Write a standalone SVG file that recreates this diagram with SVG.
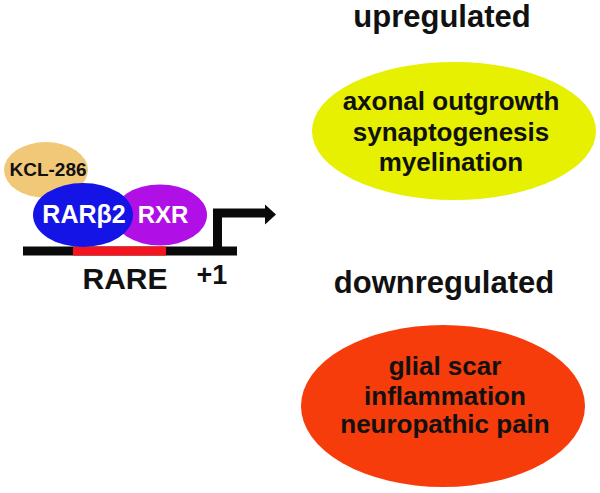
<svg xmlns="http://www.w3.org/2000/svg" width="600" height="493" viewBox="0 0 600 493">
<style>
text{font-family:"Liberation Sans",Arial,sans-serif;font-weight:bold;text-anchor:middle;fill:#111}
.w{fill:#fff}
</style>
<rect width="600" height="493" fill="#fff"/>
<g id="connectors">
<rect x="23" y="246.5" width="214" height="9" fill="#0a0a0a"/>
<rect x="73" y="246.5" width="93" height="9" fill="#f5141e"/>
<polyline points="217.5,251 217.5,213 267,213" fill="none" stroke="#0a0a0a" stroke-width="9"/>
<polygon points="265,204.5 276,214.5 265,224.5" fill="#0a0a0a"/>
</g>
<g id="kcl286">
<ellipse cx="46" cy="170" rx="42" ry="28" fill="#f0c878"/>
<text x="48" y="176" font-size="19">KCL-286</text>
</g>
<g id="rxr">
<ellipse cx="160" cy="215" rx="47" ry="30.5" fill="#b010e6"/>
<text class="w" x="163" y="223" font-size="24">RXR</text>
</g>
<g id="rarb2">
<ellipse cx="83" cy="215" rx="50" ry="32" fill="#1414e6"/>
<text class="w" x="84" y="223" font-size="25">RARβ2</text>
</g>
<g id="rare">
<text x="125" y="289" font-size="30">RARE</text>
</g>
<g id="plus1">
<text x="212" y="284" font-size="27">+1</text>
</g>
<g id="upregulated">
<text x="442" y="27" font-size="31">upregulated</text>
</g>
<g id="up-ellipse">
<ellipse cx="454" cy="131" rx="142" ry="69" fill="#e6f000"/>
<text x="451" y="110" font-size="26">axonal outgrowth</text>
<text x="451" y="141" font-size="26">synaptogenesis</text>
<text x="451" y="171" font-size="26">myelination</text>
</g>
<g id="downregulated">
<text x="444" y="293" font-size="31">downregulated</text>
</g>
<g id="down-ellipse">
<ellipse cx="443" cy="406" rx="142" ry="81" fill="#f53c0a"/>
<text x="445" y="375" font-size="26">glial scar</text>
<text x="445" y="405" font-size="26">inflammation</text>
<text x="445" y="433" font-size="26">neuropathic pain</text>
</g>
</svg>
